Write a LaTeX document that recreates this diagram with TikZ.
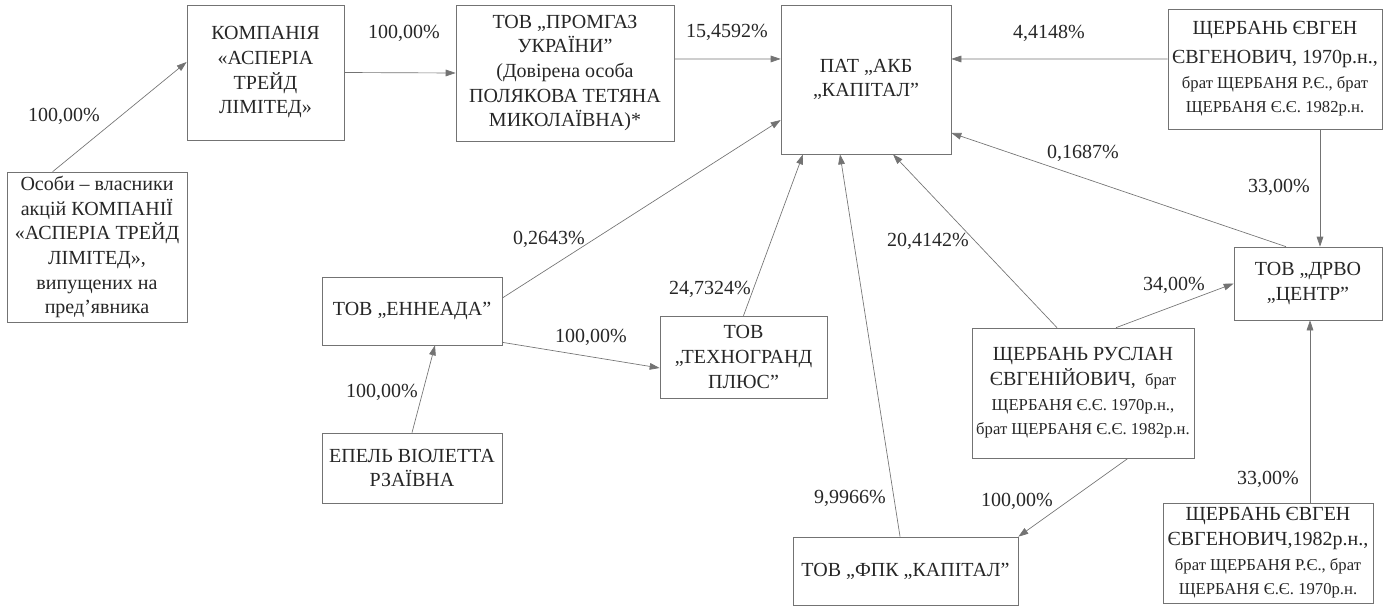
\documentclass[tikz,border=0pt]{standalone}
\usepackage{fontspec}
\setmainfont{Liberation Serif}
\usetikzlibrary{arrows.meta}
\newcommand\smtext{\fontsize{12.5}{16}\selectfont}
\begin{document}
\begin{tikzpicture}[x=0.75pt,y=0.75pt,yscale=-1,xscale=1,
  box/.style={draw=black!55, line width=0.5pt, inner sep=0pt, align=center,
    font=\fontsize{15}{18.5}\selectfont, text=black!85},
  arr/.style={draw=black!55, line width=0.5pt, -{Triangle[length=7.5pt,width=5pt]}},
  lbl/.style={inner sep=0.75pt, font=\fontsize{15}{18}\selectfont, text=black!85}]
\useasboundingbox (0,0) rectangle (1391,607);

% Boxes
\node[box, minimum width=135pt, minimum height=112.5pt] (osoby) at (97,247)
  {Особи – власники\\акцій КОМПАНІЇ\\«АСПЕРІА ТРЕЙД\\ЛІМІТЕД»,\\випущених на\\пред’явника};
\node[box, minimum width=117.75pt, minimum height=101.25pt] (kompania) at (265.5,72.5)
  {КОМПАНІЯ\\«АСПЕРІА\\ТРЕЙД\\ЛІМІТЕД»};
\node[box, minimum width=163.5pt, minimum height=102pt] (promgaz) at (565,73)
  {ТОВ „ПРОМГАЗ\\УКРАЇНИ”\\(Довірена особа\\ПОЛЯКОВА ТЕТЯНА\\МИКОЛАЇВНА)*};
\node[box, minimum width=127.5pt, minimum height=111.75pt] (pat) at (866,79.5)
  {ПАТ „АКБ\\„КАПІТАЛ”};
\node[box, minimum width=160.5pt, minimum height=90pt] (sherb70) at (1275,69)
  {ЩЕРБАНЬ ЄВГЕН\\[3pt]ЄВГЕНОВИЧ, 1970р.н.,\\\smtext брат ЩЕРБАНЯ Р.Є., брат\\\smtext ЩЕРБАНЯ Є.Є. 1982р.н.};
\node[box, minimum width=111pt, minimum height=54.75pt] (drvo) at (1308,283.5)
  {ТОВ „ДРВО\\„ЦЕНТР”};
\node[box, minimum width=135pt, minimum height=51pt] (enneada) at (412,311)
  {ТОВ „ЕННЕАДА”};
\node[box, minimum width=125.25pt, minimum height=61.5pt] (techno) at (743.5,357)
  {ТОВ\\„ТЕХНОГРАНД\\ПЛЮС”};
\node[box, minimum width=135pt, minimum height=52.5pt] (epel) at (412,468)
  {ЕПЕЛЬ ВІОЛЕТТА\\РЗАЇВНА};
\node[box, minimum width=166.5pt, minimum height=97.5pt] (ruslan) at (1083,393)
  {ЩЕРБАНЬ РУСЛАН\\ЄВГЕНІЙОВИЧ, {\smtext\ брат}\\\smtext ЩЕРБАНЯ Є.Є. 1970р.н.,\\\smtext брат ЩЕРБАНЯ Є.Є. 1982р.н.};
\node[box, minimum width=168.75pt, minimum height=51pt] (fpk) at (905.5,571)
  {ТОВ „ФПК „КАПІТАЛ”};
\node[box, minimum width=157.5pt, minimum height=75pt] (sherb82) at (1268,553)
  {ЩЕРБАНЬ ЄВГЕН\\ЄВГЕНОВИЧ,1982р.н.,\\\smtext брат ЩЕРБАНЯ Р.Є., брат\\\smtext ЩЕРБАНЯ Є.Є. 1970р.н.};

% Connectors
\draw[arr] ([xshift=34.5pt]osoby.north west) -- ([yshift=-7.9pt]kompania.west);
\draw[arr] (kompania.east) -- (promgaz.west);
\draw[arr] ([yshift=-10.5pt]promgaz.east) -- ([yshift=-15.4pt]pat.west);
\draw[arr] ([yshift=-7.5pt]sherb70.west) -- ([yshift=-15.4pt]pat.east);
\draw[arr] ([yshift=-9.75pt]enneada.east) -- ([yshift=30.4pt]pat.west);
\draw[arr] (techno.north) -- ([xshift=-47.25pt]pat.south);
\draw[arr] ([xshift=-4.1pt]fpk.north) -- ([xshift=-19.5pt]pat.south);
\draw[arr] ([xshift=-19.5pt]ruslan.north) -- ([xshift=20.25pt]pat.south);
\draw[arr] ([xshift=-16.5pt]drvo.north) -- ([yshift=40.1pt]pat.east);
\draw[arr] ([xshift=33.75pt]sherb70.south) -- ([xshift=9pt]drvo.north);
\draw[arr] ([xshift=31.5pt]sherb82.north) -- ([xshift=1.5pt]drvo.south);
\draw[arr] ([xshift=24.75pt]ruslan.north) -- (drvo.west);
\draw[arr] ([xshift=33.75pt]ruslan.south) -- (fpk.north east);
\draw[arr] ([yshift=-2.25pt]enneada.south east) -- ([yshift=8.25pt]techno.west);
\draw[arr] (epel.north) -- ([xshift=17.25pt]enneada.south);

% Labels
\node[lbl] (l1) at (64,116) {100,00\%};
\node[lbl] (l2) at (404,33) {100,00\%};
\node[lbl] (l3) at (727,32) {15,4592\%};
\node[lbl] (l4) at (1049,33) {4,4148\%};
\node[lbl] (l5) at (1083,153) {0,1687\%};
\node[lbl] (l6) at (1279,187) {33,00\%};
\node[lbl] (l7) at (1174,285) {34,00\%};
\node[lbl] (l8) at (928,241) {20,4142\%};
\node[lbl] (l9) at (710,289) {24,7324\%};
\node[lbl] (l10) at (549,239) {0,2643\%};
\node[lbl] (l11) at (591,337) {100,00\%};
\node[lbl] (l12) at (382,392) {100,00\%};
\node[lbl] (l13) at (850,498) {9,9966\%};
\node[lbl] (l14) at (1017,501) {100,00\%};
\node[lbl] (l15) at (1268,479) {33,00\%};

\end{tikzpicture}
\end{document}
